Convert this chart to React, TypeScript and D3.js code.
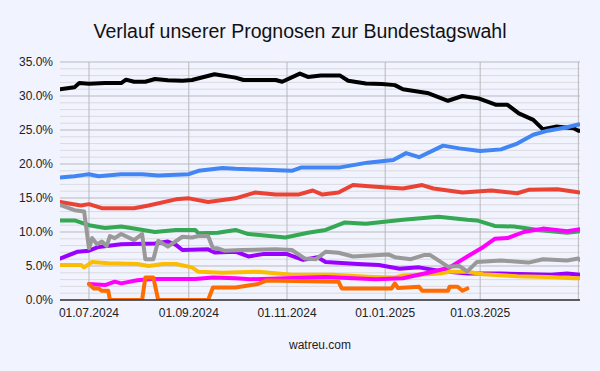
import * as d3 from 'd3'

// Prognose-Verläufe, Werte in Prozent
const cdu: [string, number][] = [
  ['2024-06-13', 31.0], ['2024-06-22', 31.3], ['2024-06-25', 31.9], ['2024-07-01', 31.8],
  ['2024-07-11', 31.9], ['2024-07-21', 31.9], ['2024-07-24', 32.4], ['2024-07-29', 32.1],
  ['2024-08-05', 32.1], ['2024-08-11', 32.5], ['2024-08-19', 32.3], ['2024-08-28', 32.25],
  ['2024-09-03', 32.35], ['2024-09-17', 33.2], ['2024-09-30', 32.7], ['2024-10-05', 32.35],
  ['2024-10-25', 32.35], ['2024-10-29', 32.1], ['2024-11-09', 33.3], ['2024-11-14', 32.8],
  ['2024-11-22', 33.0], ['2024-12-04', 33.0], ['2024-12-09', 32.25], ['2024-12-20', 31.85],
  ['2024-12-30', 31.75], ['2025-01-07', 31.6], ['2025-01-12', 31.0], ['2025-01-28', 30.4],
  ['2025-02-09', 29.3], ['2025-02-18', 30.0], ['2025-02-28', 29.65], ['2025-03-11', 28.7],
  ['2025-03-18', 28.7], ['2025-03-25', 27.45], ['2025-04-03', 26.5], ['2025-04-09', 25.1],
  ['2025-04-17', 25.5], ['2025-04-28', 25.25], ['2025-05-01', 24.9], ['2025-05-02', 24.9],
]
const afd: [string, number][] = [
  ['2024-06-13', 18.0], ['2024-06-22', 18.2], ['2024-06-28', 18.4], ['2024-07-01', 18.5],
  ['2024-07-07', 18.2], ['2024-07-21', 18.5], ['2024-08-03', 18.5], ['2024-08-13', 18.3],
  ['2024-09-01', 18.5], ['2024-09-07', 19.0], ['2024-09-22', 19.4], ['2024-09-30', 19.3],
  ['2024-10-14', 19.2], ['2024-11-04', 19.0], ['2024-11-10', 19.5], ['2024-12-04', 19.5],
  ['2024-12-21', 20.2], ['2025-01-06', 20.6], ['2025-01-14', 21.6], ['2025-01-22', 21.0],
  ['2025-02-06', 22.7], ['2025-02-16', 22.3], ['2025-03-01', 21.9], ['2025-03-14', 22.15],
  ['2025-03-24', 23.0], ['2025-04-03', 24.3], ['2025-04-12', 24.9], ['2025-04-24', 25.4],
  ['2025-05-01', 25.8], ['2025-05-02', 25.8],
]
const spd: [string, number][] = [
  ['2024-06-13', 14.4], ['2024-06-26', 13.9], ['2024-07-01', 14.1], ['2024-07-09', 13.5],
  ['2024-07-29', 13.5], ['2024-08-07', 13.9], ['2024-08-24', 14.8], ['2024-09-01', 14.95],
  ['2024-09-13', 14.4], ['2024-09-30', 14.95], ['2024-10-12', 15.8], ['2024-10-25', 15.5],
  ['2024-11-08', 15.5], ['2024-11-17', 16.1], ['2024-11-23', 15.5], ['2024-12-03', 15.8],
  ['2024-12-12', 16.9], ['2024-12-24', 16.7], ['2025-01-12', 16.4], ['2025-01-24', 16.9],
  ['2025-01-31', 16.4], ['2025-02-18', 15.8], ['2025-03-08', 16.1], ['2025-03-24', 15.7],
  ['2025-03-31', 16.2], ['2025-04-18', 16.3], ['2025-05-02', 15.8],
]
const gruene: [string, number][] = [
  ['2024-06-13', 11.7], ['2024-06-22', 11.7], ['2024-07-01', 11.0], ['2024-07-11', 10.6],
  ['2024-07-21', 10.8], ['2024-07-29', 10.5], ['2024-08-11', 10.0], ['2024-08-24', 10.3],
  ['2024-09-05', 10.3], ['2024-09-07', 9.8], ['2024-09-19', 9.9], ['2024-09-30', 10.3],
  ['2024-10-08', 9.7], ['2024-10-31', 9.2], ['2024-11-14', 9.9], ['2024-11-25', 10.3],
  ['2024-12-07', 11.4], ['2024-12-20', 11.2], ['2025-01-12', 11.8], ['2025-02-03', 12.25],
  ['2025-02-21', 11.8], ['2025-02-27', 11.7], ['2025-03-10', 10.9], ['2025-03-22', 10.8],
  ['2025-04-06', 10.3], ['2025-04-24', 9.9], ['2025-05-02', 10.1],
]
const bsw: [string, number][] = [
  ['2024-06-13', 6.1], ['2024-06-24', 7.1], ['2024-07-01', 7.25], ['2024-07-07', 7.8],
  ['2024-07-21', 8.2], ['2024-08-11', 8.3], ['2024-08-19', 8.6], ['2024-08-24', 8.1],
  ['2024-08-28', 7.35], ['2024-09-13', 7.45], ['2024-09-17', 7.0], ['2024-09-30', 7.1],
  ['2024-10-08', 6.4], ['2024-10-17', 6.75], ['2024-11-01', 6.75], ['2024-11-11', 5.9],
  ['2024-11-20', 6.3], ['2024-11-25', 5.6], ['2024-12-15', 5.3], ['2024-12-28', 5.15],
  ['2025-01-10', 4.6], ['2025-01-22', 4.8], ['2025-02-03', 4.3], ['2025-02-21', 3.9],
  ['2025-03-14', 3.9], ['2025-04-14', 3.7], ['2025-04-24', 3.9], ['2025-05-02', 3.7],
]
const fdp: [string, number][] = [
  ['2024-06-13', 5.15], ['2024-06-26', 5.15], ['2024-06-28', 4.8], ['2024-07-03', 5.6],
  ['2024-07-13', 5.4], ['2024-07-31', 5.3], ['2024-08-07', 5.0], ['2024-08-16', 5.3],
  ['2024-08-24', 5.3], ['2024-09-03', 4.8], ['2024-09-07', 4.15], ['2024-09-22', 4.0],
  ['2024-10-14', 4.15], ['2024-11-04', 3.7], ['2024-11-29', 3.7], ['2024-12-24', 3.4],
  ['2025-01-07', 3.3], ['2025-01-12', 3.6], ['2025-02-04', 3.9], ['2025-02-10', 4.15],
  ['2025-02-21', 4.15], ['2025-03-03', 3.8], ['2025-03-24', 3.5], ['2025-04-12', 3.4],
  ['2025-04-28', 3.2], ['2025-05-02', 3.2],
]
const linke: [string, number][] = [
  ['2024-07-01', 2.35], ['2024-07-11', 2.2], ['2024-07-17', 2.7], ['2024-07-21', 2.45],
  ['2024-07-31', 2.9], ['2024-08-09', 3.1], ['2024-09-05', 3.1], ['2024-09-16', 3.3],
  ['2024-09-30', 3.2], ['2024-10-09', 3.05], ['2024-11-25', 3.4], ['2024-12-26', 3.05],
  ['2025-01-12', 3.2], ['2025-01-31', 4.2], ['2025-02-10', 4.8], ['2025-02-21', 6.4],
  ['2025-03-03', 7.8], ['2025-03-10', 9.0], ['2025-03-18', 9.1], ['2025-03-28', 10.0],
  ['2025-04-09', 10.5], ['2025-04-24', 10.1], ['2025-05-02', 10.4],
]
const sonstige: [string, number][] = [
  ['2024-06-13', 14.0], ['2024-06-22', 13.2], ['2024-06-28', 13.0], ['2024-07-01', 7.6],
  ['2024-07-03', 9.1], ['2024-07-06', 8.2], ['2024-07-09', 8.6], ['2024-07-12', 7.95],
  ['2024-07-14', 9.4], ['2024-07-17', 9.1], ['2024-07-21', 9.7], ['2024-07-29', 8.8],
  ['2024-08-03', 9.7], ['2024-08-05', 6.0], ['2024-08-10', 6.0], ['2024-08-13', 8.7],
  ['2024-08-19', 7.85], ['2024-08-28', 9.3], ['2024-09-03', 9.2], ['2024-09-07', 9.4],
  ['2024-09-13', 9.4], ['2024-09-16', 7.6], ['2024-09-19', 7.6], ['2024-09-23', 7.25],
  ['2024-10-04', 7.35], ['2024-10-25', 7.45], ['2024-11-04', 7.35], ['2024-11-12', 6.1],
  ['2024-11-19', 6.0], ['2024-11-25', 7.1], ['2024-12-03', 6.95], ['2024-12-12', 6.4],
  ['2024-12-20', 6.5], ['2025-01-03', 6.7], ['2025-01-07', 6.3], ['2025-01-17', 6.0],
  ['2025-01-25', 6.6], ['2025-01-29', 6.6], ['2025-02-09', 4.9], ['2025-02-16', 5.0],
  ['2025-02-21', 4.2], ['2025-02-27', 5.6], ['2025-03-14', 5.8], ['2025-03-31', 5.5],
  ['2025-04-09', 6.0], ['2025-04-24', 5.8], ['2025-05-01', 6.1], ['2025-05-02', 5.9],
]
const fw: [string, number][] = [
  ['2024-07-01', 2.35], ['2024-07-04', 1.7], ['2024-07-07', 1.7], ['2024-07-09', 1.35],
  ['2024-07-13', 1.35], ['2024-07-14', 0], ['2024-08-03', 0], ['2024-08-05', 3.3],
  ['2024-08-10', 3.3], ['2024-08-13', 0], ['2024-09-13', 0], ['2024-09-16', 1.85],
  ['2024-09-30', 1.85], ['2024-10-06', 2.05], ['2024-10-14', 2.35], ['2024-10-19', 2.85],
  ['2024-12-03', 2.7], ['2024-12-05', 1.7], ['2025-01-05', 1.7], ['2025-01-07', 2.45],
  ['2025-01-09', 1.75], ['2025-01-22', 1.95], ['2025-01-24', 1.35], ['2025-02-09', 1.35],
  ['2025-02-10', 1.95], ['2025-02-15', 1.95], ['2025-02-18', 1.35], ['2025-02-21', 1.7],
]

const series: { data: [string, number][]; color: string }[] = [
  { data: cdu, color: '#000000' },
  { data: afd, color: '#4285f4' },
  { data: spd, color: '#ea4335' },
  { data: gruene, color: '#34a853' },
  { data: bsw, color: '#9900ff' },
  { data: fdp, color: '#fbbc04' },
  { data: linke, color: '#ff00ff' },
  { data: sonstige, color: '#999999' },
  { data: fw, color: '#ff6d01' },
]

const xTicks = ['2024-07-01', '2024-09-01', '2024-11-01', '2025-01-01', '2025-03-01', '2025-05-01']
const xLabelled = 5
const yTicks = [0, 5, 10, 15, 20, 25, 30, 35]

const width = 600
const height = 371
const marginLeft = 60
const marginRight = 20
const marginTop = 62
const marginBottom = 71

const parse = d3.timeParse('%Y-%m-%d')
const fmt = d3.timeFormat('%d.%m.%Y')

export default function App() {
  const x = d3.scaleTime(
    [parse('2024-06-13')!, parse('2025-05-02')!],
    [marginLeft, width - marginRight]
  )
  const y = d3.scaleLinear([0, 35], [height - marginBottom, marginTop])
  const line = d3
    .line<[string, number]>()
    .x((d) => x(parse(d[0])!))
    .y((d) => y(d[1]))
  const minor = d3.range(0, 36).filter((v) => v % 5 !== 0)
  const font = '"Liberation Sans", Arial, sans-serif'

  return (
    <svg
      width={width}
      height={height}
      style={{ position: 'absolute', left: 0, top: 0, fontFamily: font }}
    >
      <rect width={width} height={height} fill="#f1f3fe" />
      <defs>
        <clipPath id="plot">
          <rect
            x={marginLeft}
            y={marginTop - 4}
            width={width - marginLeft - marginRight}
            height={height - marginTop - marginBottom + 4}
          />
        </clipPath>
      </defs>
      <text x={width / 2} y={38} textAnchor="middle" fontSize={19.5} fill="#111">
        Verlauf unserer Prognosen zur Bundestagswahl
      </text>
      {minor.map((v) => (
        <line
          key={'m' + v}
          x1={marginLeft}
          x2={width - marginRight}
          y1={y(v)}
          y2={y(v)}
          stroke="#dadadf"
          strokeWidth={1}
        />
      ))}
      {yTicks.map((v) => (
        <g key={'y' + v}>
          <line
            x1={marginLeft}
            x2={width - marginRight}
            y1={y(v)}
            y2={y(v)}
            stroke="#b9b9bd"
            strokeWidth={1}
          />
          <text
            x={marginLeft - 7}
            y={y(v) + 4}
            textAnchor="end"
            fontSize={12}
            fill="#222"
          >
            {v.toFixed(1)}%
          </text>
        </g>
      ))}
      {xTicks.map((t, i) => (
        <g key={t}>
          <line
            x1={x(parse(t)!)}
            x2={x(parse(t)!)}
            y1={marginTop}
            y2={height - marginBottom}
            stroke="#b9b9bd"
            strokeWidth={1}
          />
          {i < xLabelled && (
            <text
              x={x(parse(t)!)}
              y={height - marginBottom + 17}
              textAnchor="middle"
              fontSize={12}
              fill="#222"
            >
              {fmt(parse(t)!)}
            </text>
          )}
        </g>
      ))}
      <g clipPath="url(#plot)">
        {series.map((s, i) => (
          <path
            key={i}
            d={line(s.data) || undefined}
            fill="none"
            stroke={s.color}
            strokeWidth={4}
            strokeLinejoin="round"
            strokeLinecap="round"
          />
        ))}
      </g>
      <line
        x1={marginLeft}
        x2={width - marginRight}
        y1={y(0)}
        y2={y(0)}
        stroke="#333"
        strokeWidth={1.5}
      />
      <text x={(marginLeft + width - marginRight) / 2} y={349} textAnchor="middle" fontSize={12} fill="#222">
        watreu.com
      </text>
    </svg>
  )
}
